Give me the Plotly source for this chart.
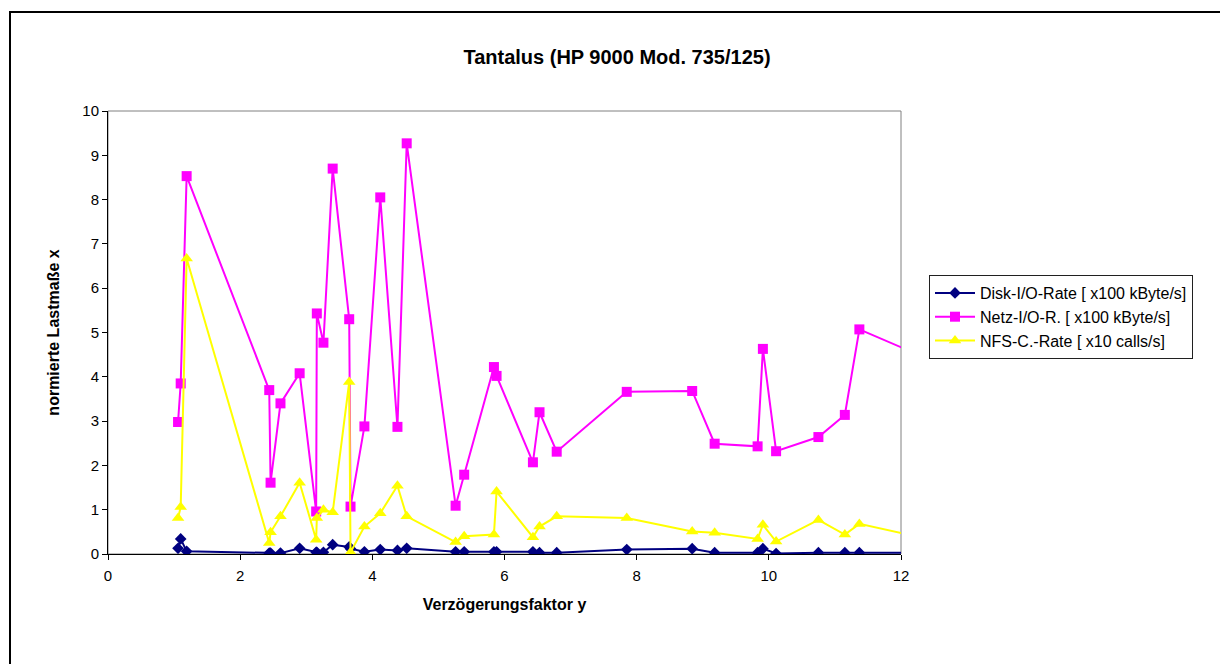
import plotly.graph_objects as go

# Shared x values (Verzögerungsfaktor y); last point lies beyond the axis end and is clipped
delay_factor = [1.06, 1.10, 1.19, 2.44, 2.46, 2.61, 2.90, 3.15, 3.16, 3.26, 3.40, 3.65, 3.67,
                3.88, 4.12, 4.38, 4.52, 5.26, 5.39, 5.84, 5.88, 6.43, 6.53, 6.79, 7.85, 8.84,
                9.18, 9.83, 9.91, 10.11, 10.75, 11.15, 11.37, 12.40]

disk_rate = [0.13, 0.34, 0.06, 0.02, 0.02, 0.02, 0.13, 0.04, 0.04, 0.04, 0.21, 0.16, 0.12,
             0.05, 0.10, 0.08, 0.13, 0.05, 0.05, 0.05, 0.05, 0.05, 0.03, 0.03, 0.10, 0.12,
             0.03, 0.03, 0.12, 0.01, 0.03, 0.03, 0.03, 0.03]

netz_rate = [2.98, 3.85, 8.53, 3.70, 1.61, 3.40, 4.08, 0.96, 5.43, 4.77, 8.70, 5.30, 1.07,
             2.88, 8.05, 2.87, 9.27, 1.09, 1.79, 4.22, 4.02, 2.07, 3.20, 2.31, 3.66, 3.68,
             2.49, 2.43, 4.63, 2.32, 2.64, 3.14, 5.07, 4.41]

nfs_rate = [0.81, 1.06, 6.67, 0.25, 0.49, 0.85, 1.61, 0.32, 0.81, 1.00, 0.94, 3.88, 0.04,
            0.62, 0.92, 1.54, 0.85, 0.27, 0.40, 0.44, 1.41, 0.38, 0.62, 0.85, 0.81, 0.51,
            0.48, 0.34, 0.66, 0.28, 0.77, 0.44, 0.68, 0.34]

series_names = ["Disk-I/O-Rate [ x100 kByte/s]",
                "Netz-I/O-R. [ x100 kByte/s]",
                "NFS-C.-Rate [ x10 calls/s]"]

FONT = "Arial, 'Liberation Sans', sans-serif"

fig = go.Figure()
fig.add_trace(go.Scatter(
    x=delay_factor, y=disk_rate, name=series_names[0], mode="lines+markers",
    legendgroup="a",
    line=dict(color="#000080", width=2),
    marker=dict(symbol="diamond", size=9, color="#000080")))
fig.add_trace(go.Scatter(
    x=delay_factor, y=netz_rate, name=series_names[1], mode="lines+markers",
    legendgroup="b",
    line=dict(color="#FF00FF", width=2),
    marker=dict(symbol="square", size=10, color="#FF00FF")))
fig.add_trace(go.Scatter(
    x=delay_factor, y=nfs_rate, name=series_names[2], mode="lines+markers",
    legendgroup="c",
    line=dict(color="#FFFF00", width=2),
    marker=dict(symbol="triangle-up", size=11, color="#FFFF00")))

ML, MR, MT, MB = 108, 319, 111, 110
W, H = 1220, 664
pw = W - ML - MR
ph = H - MT - MB

def px_to_paper_x(px):
    return (px - ML) / pw

def py_to_paper_y(py):
    return (H - MB - py) / ph

fig.update_layout(
    width=W, height=H,
    margin=dict(l=ML, r=MR, t=MT, b=MB),
    paper_bgcolor="white", plot_bgcolor="white",
    font=dict(family=FONT, color="black", size=15),
    title=dict(text="<b>Tantalus (HP 9000 Mod. 735/125)</b>",
               font=dict(family=FONT, size=20, color="black"),
               x=617 / W, xref="container", xanchor="center",
               y=1 - 57 / H, yref="container", yanchor="middle"),
    xaxis=dict(range=[0, 12], dtick=2, tick0=0, showgrid=False, zeroline=False,
               showline=True, linecolor="black", linewidth=1,
               ticks="outside", ticklen=5, tickcolor="black",
               tickfont=dict(size=15), ticklabelstandoff=3,
               title=dict(text="<b>Verzögerungsfaktor y</b>", font=dict(size=16), standoff=15)),
    yaxis=dict(range=[0, 10], dtick=1, tick0=0, showgrid=False, zeroline=False,
               showline=True, linecolor="black", linewidth=1,
               ticks="outside", ticklen=5, tickcolor="black",
               tickfont=dict(size=15),
               title=dict(text="<b>normierte Lastmaße x</b>", font=dict(size=16), standoff=18)),
    legend=dict(x=px_to_paper_x(929), y=py_to_paper_y(275), xanchor="left", yanchor="top",
                bordercolor="#202020", borderwidth=1, bgcolor="white",
                font=dict(size=16, color="black"),
                itemwidth=40,
                traceorder="grouped", tracegroupgap=0),
    showlegend=True,
    shapes=[
        # grey plot-area frame
        dict(type="rect", xref="paper", yref="paper", x0=0, x1=1, y0=0, y1=1,
             line=dict(color="#808080", width=1), layer="below"),
        # outer chart frame (extends beyond the window at right and bottom)
        dict(type="rect", xref="paper", yref="paper",
             x0=px_to_paper_x(10), x1=px_to_paper_x(1240),
             y0=py_to_paper_y(690), y1=py_to_paper_y(12),
             line=dict(color="black", width=2), layer="below"),
    ],
)

fig.write_html("out.html")
